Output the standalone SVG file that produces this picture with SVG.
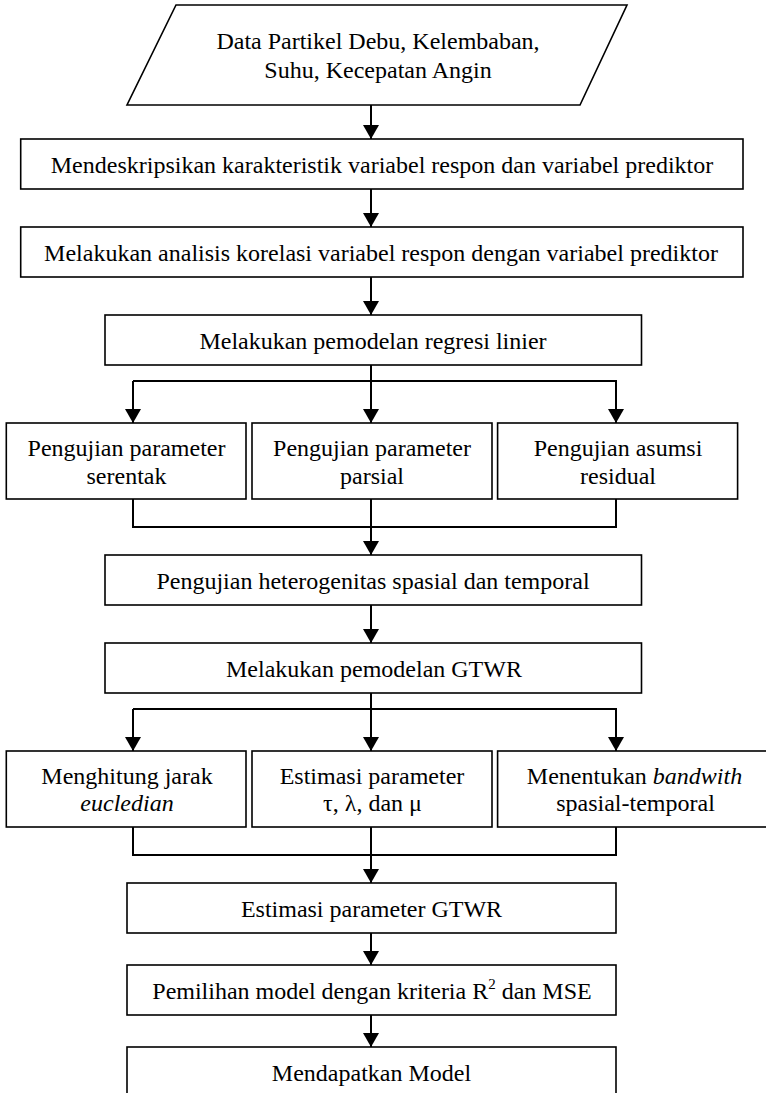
<svg xmlns="http://www.w3.org/2000/svg" width="766" height="1093" viewBox="0 0 766 1093">
<style>
.box{fill:#fff;stroke:#000;stroke-width:1.6}
text{font-family:'Liberation Serif',serif;font-size:24px;fill:#000;text-anchor:middle}
.c{fill:none;stroke:#000;stroke-width:2}
</style>
<defs>
<marker id="ah" markerUnits="userSpaceOnUse" markerWidth="14" markerHeight="16" refX="14" refY="8" orient="auto" viewBox="0 0 14 16">
<path d="M0,0 L14,8 L0,16 Z" fill="#000"/>
</marker>
</defs>
<rect width="766" height="1093" fill="#fff"/>
<g id="connectors">
<line class="c" x1="371" y1="105" x2="371" y2="139" marker-end="url(#ah)"/>
<line class="c" x1="371" y1="189" x2="371" y2="227" marker-end="url(#ah)"/>
<line class="c" x1="371" y1="277" x2="371" y2="315" marker-end="url(#ah)"/>
<line class="c" x1="371" y1="365" x2="371" y2="423" marker-end="url(#ah)"/>
<polyline class="c" points="133,381 616,381 616,423" marker-end="url(#ah)"/>
<line class="c" x1="133" y1="381" x2="133" y2="423" marker-end="url(#ah)"/>
<polyline class="c" points="133,499 133,527 616,527 616,499"/>
<line class="c" x1="371" y1="499" x2="371" y2="555" marker-end="url(#ah)"/>
<line class="c" x1="371" y1="605" x2="371" y2="643" marker-end="url(#ah)"/>
<line class="c" x1="371" y1="693" x2="371" y2="751" marker-end="url(#ah)"/>
<polyline class="c" points="133,709 616,709 616,751" marker-end="url(#ah)"/>
<line class="c" x1="133" y1="709" x2="133" y2="751" marker-end="url(#ah)"/>
<polyline class="c" points="133,827 133,855 616,855 616,827"/>
<line class="c" x1="371" y1="827" x2="371" y2="883" marker-end="url(#ah)"/>
<line class="c" x1="371" y1="933" x2="371" y2="965" marker-end="url(#ah)"/>
<line class="c" x1="371" y1="1015" x2="371" y2="1047" marker-end="url(#ah)"/>
</g>
<g id="n-data">
<polygon class="box" points="176,5 627,5 580,105 127,105"/>
<text x="378" y="49">Data Partikel Debu, Kelembaban,</text>
<text x="378" y="78">Suhu, Kecepatan Angin</text>
</g>
<g id="n-deskripsi">
<rect class="box" x="20.7" y="139" width="722.3" height="50"/>
<text x="382" y="173">Mendeskripsikan karakteristik variabel respon dan variabel prediktor</text>
</g>
<g id="n-korelasi">
<rect class="box" x="20.7" y="227" width="722.3" height="50"/>
<text x="381" y="261">Melakukan analisis korelasi variabel respon dengan variabel prediktor</text>
</g>
<g id="n-regresi">
<rect class="box" x="105" y="315" width="536.5" height="50"/>
<text x="373" y="349">Melakukan pemodelan regresi linier</text>
</g>
<g id="n-serentak">
<rect class="box" x="6.3" y="423" width="239.7" height="76"/>
<text x="126.5" y="455.5">Pengujian parameter</text>
<text x="126.5" y="483.5">serentak</text>
</g>
<g id="n-parsial">
<rect class="box" x="252" y="423" width="240" height="76"/>
<text x="372" y="455.5">Pengujian parameter</text>
<text x="372" y="483.5">parsial</text>
</g>
<g id="n-residual">
<rect class="box" x="497.6" y="423" width="240" height="76"/>
<text x="618" y="455.5">Pengujian asumsi</text>
<text x="618" y="483.5">residual</text>
</g>
<g id="n-heterogenitas">
<rect class="box" x="105" y="555" width="536.5" height="50"/>
<text x="373" y="589">Pengujian heterogenitas spasial dan temporal</text>
</g>
<g id="n-gtwr">
<rect class="box" x="105" y="643" width="536.5" height="50"/>
<text x="374" y="677">Melakukan pemodelan GTWR</text>
</g>
<g id="n-jarak">
<rect class="box" x="6.3" y="751" width="239.7" height="76"/>
<text x="127" y="783.5">Menghitung jarak</text>
<text x="127" y="811" font-style="italic">eucledian</text>
</g>
<g id="n-estimasi">
<rect class="box" x="252" y="751" width="240" height="76"/>
<text x="372" y="783.5">Estimasi parameter</text>
<text x="372.5" y="811">τ, λ, dan μ</text>
</g>
<g id="n-bandwith">
<rect class="box" x="497.6" y="751" width="275" height="76"/>
<text x="634.5" y="783.5">Menentukan <tspan font-style="italic">bandwith</tspan></text>
<text x="635.5" y="811">spasial-temporal</text>
</g>
<g id="n-estimasi-gtwr">
<rect class="box" x="127" y="883" width="489" height="50"/>
<text x="371.5" y="917">Estimasi parameter GTWR</text>
</g>
<g id="n-pemilihan">
<rect class="box" x="127" y="965" width="489" height="50"/>
<text x="372" y="999">Pemilihan model dengan kriteria R<tspan font-size="15" dy="-10">2</tspan><tspan dy="10"> dan MSE</tspan></text>
</g>
<g id="n-model">
<rect class="box" x="127" y="1047" width="489" height="60"/>
<text x="371.5" y="1081">Mendapatkan Model</text>
</g>
</svg>
